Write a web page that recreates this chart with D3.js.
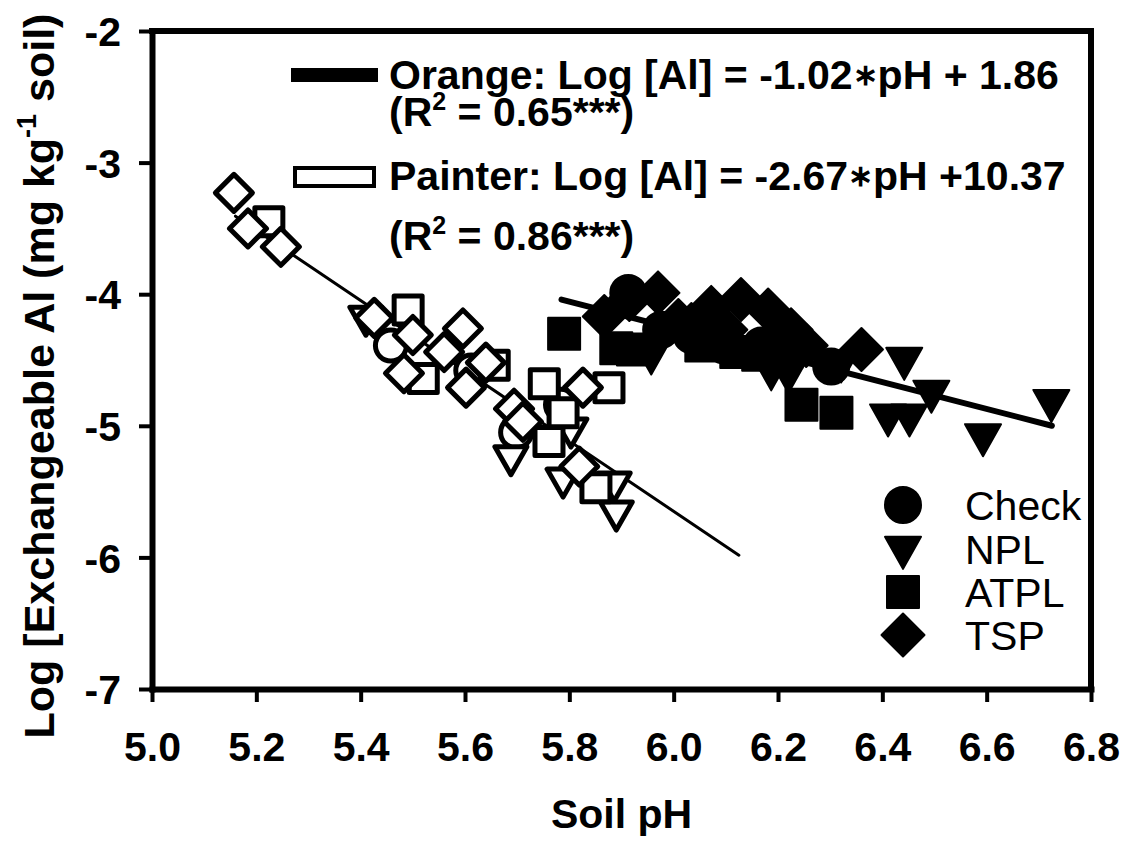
<!DOCTYPE html>
<html>
<head>
<meta charset="utf-8">
<script src="https://cdn.jsdelivr.net/npm/d3@7"></script>
<style>
  html, body { margin: 0; padding: 0; background: #fff; }
  svg { display: block; }
  text { font-family: "Liberation Sans", Arial, sans-serif; fill: #000; }
</style>
</head>
<body>
<svg id="chart" width="1128" height="844"></svg>
<script>
// ---------------- data ----------------
const xTicks = [5.0, 5.2, 5.4, 5.6, 5.8, 6.0, 6.2, 6.4, 6.6, 6.8];
const yTicks = [-2, -3, -4, -5, -6, -7];
const treatments = ["Check", "NPL", "ATPL", "TSP"];

// Orange soil (filled markers): [pH, log Al]
const orangeCheck = [[5.913,-3.99],[5.976,-4.27],[6.034,-4.31],[6.097,-4.39],[6.168,-4.39],[6.302,-4.55]];
const orangeNPL = [[5.957,-4.46],[6.187,-4.58],[6.220,-4.60],[6.321,-4.52],[6.442,-4.50],[6.494,-4.75],[6.411,-4.93],[6.452,-4.93],[6.593,-5.08],[6.724,-4.82]];
const orangeATPL = [[5.790,-4.30],[5.890,-4.41],[5.922,-4.42],[6.053,-4.39],[6.120,-4.44],[6.162,-4.46],[6.216,-4.44],[6.245,-4.84],[6.312,-4.90]];
const orangeTSP = [[5.867,-4.17],[5.915,-4.04],[5.970,-3.99],[6.009,-4.20],[6.034,-4.23],[6.072,-4.10],[6.100,-4.27],[6.129,-4.04],[6.181,-4.12],[6.225,-4.27],[6.254,-4.39],[6.360,-4.42]];

// Painter soil (open markers)
const painterCheck = [[5.458,-4.39],[5.612,-4.58],[5.698,-5.05],[5.784,-4.84]];
const painterNPL = [[5.410,-4.18],[5.688,-5.24],[5.803,-5.03],[5.788,-5.41],[5.886,-5.44],[5.890,-5.66]];
const painterATPL = [[5.224,-3.45],[5.491,-4.12],[5.520,-4.64],[5.656,-4.54],[5.752,-4.68],[5.876,-4.71],[5.788,-4.90],[5.761,-5.12],[5.851,-5.47]];
const painterTSP = [[5.157,-3.23],[5.184,-3.50],[5.247,-3.64],[5.426,-4.18],[5.500,-4.31],[5.596,-4.26],[5.560,-4.44],[5.483,-4.60],[5.640,-4.52],[5.602,-4.71],[5.694,-4.87],[5.711,-4.97],[5.826,-4.71],[5.819,-5.31]];

// regression fits: slope, intercept, pH range
const orangeFit = {slope: -1.02, intercept: 1.86, from: 5.785, to: 6.725};
const painterFit = {slope: -2.67, intercept: 10.37, from: 5.16, to: 6.125};

const legendSite = ["Orange", "Painter"];
const legendSlope = ["-1.02", "-2.67"];
const legendIntercept = [" + 1.86", " +10.37"];
const r2Values = ["0.65***", "0.86***"];

// ---------------- chart ----------------
const svg = d3.select("#chart");
const x = d3.scaleLinear().domain([5.0, 6.8]).range([152, 1091]);
const y = d3.scaleLinear().domain([-7, -2]).range([689, 31]);

// marker path generator
function shapePath(type, filled) {
  const p = d3.path();
  if (type === "Check") {
    const r = filled ? 18 : 15.5;
    p.arc(0, 0, r, 0, 2 * Math.PI);
  } else if (type === "NPL") {
    const w = filled ? 18 : 16, h = filled ? 32 : 28;
    p.moveTo(-w, -h * 0.38); p.lineTo(w, -h * 0.38); p.lineTo(0, h * 0.62); p.closePath();
  } else if (type === "ATPL") {
    const s = filled ? 16 : 14;
    p.rect(-s, -s, 2 * s, 2 * s);
  } else {
    const d = filled ? 21.5 : 18.5;
    p.moveTo(0, -d); p.lineTo(d, 0); p.lineTo(0, d); p.lineTo(-d, 0); p.closePath();
  }
  return p.toString();
}

// regression lines (behind markers)
function drawFit(fit, width) {
  const pts = [fit.from, fit.to].map(v => [v, fit.slope * v + fit.intercept]);
  svg.append("line")
    .attr("x1", x(pts[0][0])).attr("y1", y(pts[0][1]))
    .attr("x2", x(pts[1][0])).attr("y2", y(pts[1][1]))
    .attr("stroke", "#000").attr("stroke-width", width).attr("stroke-linecap", "round");
}
drawFit(painterFit, 3);
drawFit(orangeFit, 6);

function drawSeries(data, type, filled) {
  svg.append("g").selectAll("path").data(data).join("path")
    .attr("d", shapePath(type, filled))
    .attr("transform", d => `translate(${x(d[0])},${y(d[1])})`)
    .attr("fill", filled ? "#000" : "#fff")
    .attr("stroke", "#000")
    .attr("stroke-width", filled ? 2 : 5)
    .attr("stroke-linejoin", "round");
}
drawSeries(painterCheck, "Check", false);
drawSeries(painterNPL, "NPL", false);
drawSeries(painterATPL, "ATPL", false);
drawSeries(painterTSP, "TSP", false);
drawSeries(orangeCheck, "Check", true);
drawSeries(orangeNPL, "NPL", true);
drawSeries(orangeATPL, "ATPL", true);
drawSeries(orangeTSP, "TSP", true);

// axes
const xAxis = d3.axisBottom(x).tickValues(xTicks).tickFormat(d3.format(".1f")).tickSize(13).tickSizeOuter(0).tickPadding(30);
const yAxis = d3.axisLeft(y).tickValues(yTicks).tickFormat(d => String(d)).tickSize(13).tickSizeOuter(0).tickPadding(18);

const gx = svg.append("g").attr("transform", `translate(0,${y(-7)})`).call(xAxis);
const gy = svg.append("g").attr("transform", `translate(${x(5.0)},0)`).call(yAxis);
[gx, gy].forEach(g => {
  g.select(".domain").attr("stroke", "#000").attr("stroke-width", 6).attr("stroke-linecap", "square");
  g.selectAll(".tick line").attr("stroke", "#000").attr("stroke-width", 4);
  g.selectAll(".tick text").attr("fill", "#000")
    .style("font-family", '"Liberation Sans", Arial, sans-serif')
    .style("font-size", "41px").style("font-weight", "bold");
});
gx.selectAll(".tick text").attr("dy", "0.71em");
gy.selectAll(".tick text").attr("dy", "0.36em");

// frame (top and right)
svg.append("line").attr("x1", x(5.0)).attr("x2", x(6.8)).attr("y1", y(-2)).attr("y2", y(-2))
  .attr("stroke", "#000").attr("stroke-width", 6).attr("stroke-linecap", "square");
svg.append("line").attr("x1", x(6.8)).attr("x2", x(6.8)).attr("y1", y(-2)).attr("y2", y(-7))
  .attr("stroke", "#000").attr("stroke-width", 6).attr("stroke-linecap", "square");

// axis titles
svg.append("text").attr("x", (x(5.0) + x(6.8)) / 2).attr("y", 828)
  .attr("text-anchor", "middle").style("font-size", "41px").style("font-weight", "bold")
  .text("Soil pH");

const yt = svg.append("text").attr("transform", "translate(54,376) rotate(-90)")
  .attr("text-anchor", "middle").style("font-size", "43px").style("font-weight", "bold");
yt.append("tspan").text("Log [Exchangeable Al (mg kg");
yt.append("tspan").attr("dy", -18).style("font-size", "27px").text("-1");
yt.append("tspan").attr("dy", 18).text(" soil)");

// top legend
const lg = svg.append("g");
lg.append("rect").attr("x", 291).attr("y", 68).attr("width", 87).attr("height", 14).attr("fill", "#000");
lg.append("rect").attr("x", 295).attr("y", 168).attr("width", 79).attr("height", 18)
  .attr("fill", "#fff").attr("stroke", "#000").attr("stroke-width", 4);
const baselines = [[89, 126], [190, 250]];
legendSite.forEach((site, i) => {
  const t = lg.append("text").attr("x", 389).attr("y", baselines[i][0])
    .style("font-size", "41px").style("font-weight", "bold");
  t.append("tspan").text(`${site}: Log [Al] = ${legendSlope[i]}`);
  t.append("tspan").attr("dy", -4).style("font-size", "30px").text("\u2217");
  t.append("tspan").attr("dy", 4).text("pH" + legendIntercept[i]);
  const r = lg.append("text").attr("x", 389).attr("y", baselines[i][1])
    .style("font-size", "41px").style("font-weight", "bold");
  r.append("tspan").text("(R");
  r.append("tspan").attr("dy", -16).style("font-size", "25px").text("2");
  r.append("tspan").attr("dy", 16).text(" = " + r2Values[i] + ")");
});

// symbol legend (bottom right)
const sl = svg.append("g");
const legY = [505, 549, 592, 635];
treatments.forEach((t, i) => {
  sl.append("path").attr("d", shapePath(t, true))
    .attr("transform", `translate(903,${legY[i]})`)
    .attr("fill", "#000").attr("stroke", "#000").attr("stroke-width", 2).attr("stroke-linejoin", "round");
  sl.append("text").attr("x", 965).attr("y", legY[i] + 15)
    .style("font-size", "41px").text(t);
});
</script>
</body>
</html>
